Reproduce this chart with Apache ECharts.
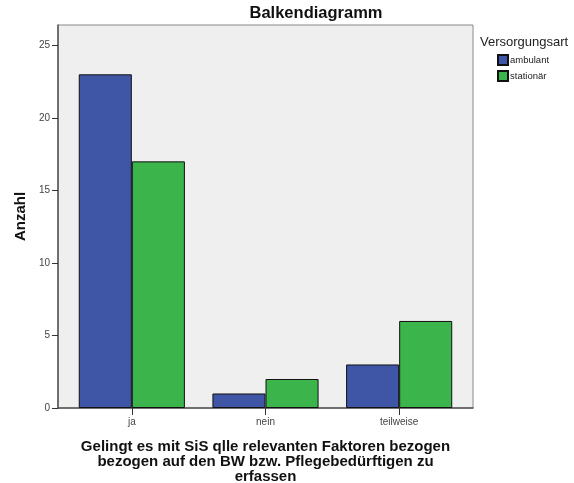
<!DOCTYPE html>
<html><head><meta charset="utf-8">
<script src="https://cdn.jsdelivr.net/npm/echarts@6/dist/echarts.min.js"></script>
<style>html,body{margin:0;padding:0;background:#fff}#c{width:574px;height:483px}</style>
</head><body><div id="c"></div>
<script>
const categories = ['ja', 'nein', 'teilweise'];
const seriesNames = ['ambulant', 'stationär'];
const ambulant = [23, 1, 3];
const stationaer = [17, 2, 6];
const yTicks = [0, 5, 10, 15, 20, 25];

const chart = echarts.init(document.getElementById('c'), null, {renderer: 'canvas'});
const FONT = 'Liberation Sans';
const yMax = 26.4;
chart.setOption({
  animation: false,
  backgroundColor: '#ffffff',
  title: [
    {text: 'Balkendiagramm', left: 316, top: 5, padding: 0, textAlign: 'center',
     textStyle: {fontFamily: FONT, fontSize: 16.5, fontWeight: 'bold', color: '#111'}},
    {text: 'Versorgungsart', left: 480, top: 36, padding: 0,
     textStyle: {fontFamily: FONT, fontSize: 13, fontWeight: 'normal', color: '#222'}}
  ],
  legend: {
    orient: 'vertical', left: 497, top: 54, padding: 0, itemWidth: 10, itemHeight: 10, itemGap: 4,
    icon: 'rect', data: seriesNames,
    textStyle: {fontFamily: FONT, fontSize: 9.5, color: '#222', padding: [0, 0, 0, -3]}
  },
  grid: [
    {left: 58, right: 101, top: 25, bottom: 75, show: true, backgroundColor: '#f0eff0',
     borderColor: '#8a8a8a', borderWidth: 1, outerBoundsMode: 'none', containLabel: false},
    {left: 65, right: 108, top: 25, bottom: 75, outerBoundsMode: 'none', containLabel: false}
  ],
  xAxis: [
    {type: 'value', gridIndex: 0, min: 0, max: 1, show: true,
     axisLine: {show: true, lineStyle: {color: '#555', width: 1.5}},
     axisTick: {show: false}, axisLabel: {show: false}, splitLine: {show: false}},
    {type: 'category', gridIndex: 1, data: categories,
     axisLine: {show: false},
     axisTick: {show: true, alignWithLabel: true, length: 7, lineStyle: {color: '#333', width: 1}},
     axisLabel: {fontFamily: FONT, fontSize: 10, color: '#444', margin: 9},
     name: 'Gelingt es mit SiS qlle relevanten Faktoren bezogen\nbezogen auf den BW bzw. Pflegebedürftigen zu\nerfassen',
     nameLocation: 'middle', nameGap: 31,
     nameTextStyle: {fontFamily: FONT, fontSize: 15, fontWeight: 'bold', color: '#111', lineHeight: 15, align: 'center', verticalAlign: 'top'}}
  ],
  yAxis: [
    {type: 'value', gridIndex: 0, min: 0, max: yMax, interval: 5,
     axisLine: {show: true, lineStyle: {color: '#555', width: 1.5}},
     axisTick: {show: true, length: 6, lineStyle: {color: '#333'}},
     axisLabel: {fontFamily: FONT, fontSize: 10, color: '#444', margin: 8, showMaxLabel: false,
       formatter: v => yTicks.includes(v) ? String(v) : ''},
     splitLine: {show: false},
     name: 'Anzahl', nameLocation: 'middle', nameGap: 28,
     nameTextStyle: {fontFamily: FONT, fontSize: 15, fontWeight: 'bold', color: '#111'}},
    {type: 'value', gridIndex: 1, min: 0, max: yMax, show: false}
  ],
  series: [
    {name: seriesNames[0], type: 'bar', xAxisIndex: 1, yAxisIndex: 1, data: ambulant,
     barGap: '0%', barCategoryGap: '20.6%',
     itemStyle: {color: '#3f56a6', borderColor: '#111', borderWidth: 1}},
    {name: seriesNames[1], type: 'bar', xAxisIndex: 1, yAxisIndex: 1, data: stationaer,
     barGap: '0%', barCategoryGap: '20.6%',
     itemStyle: {color: '#3ab44b', borderColor: '#111', borderWidth: 1}}
  ]
});
</script></body></html>
